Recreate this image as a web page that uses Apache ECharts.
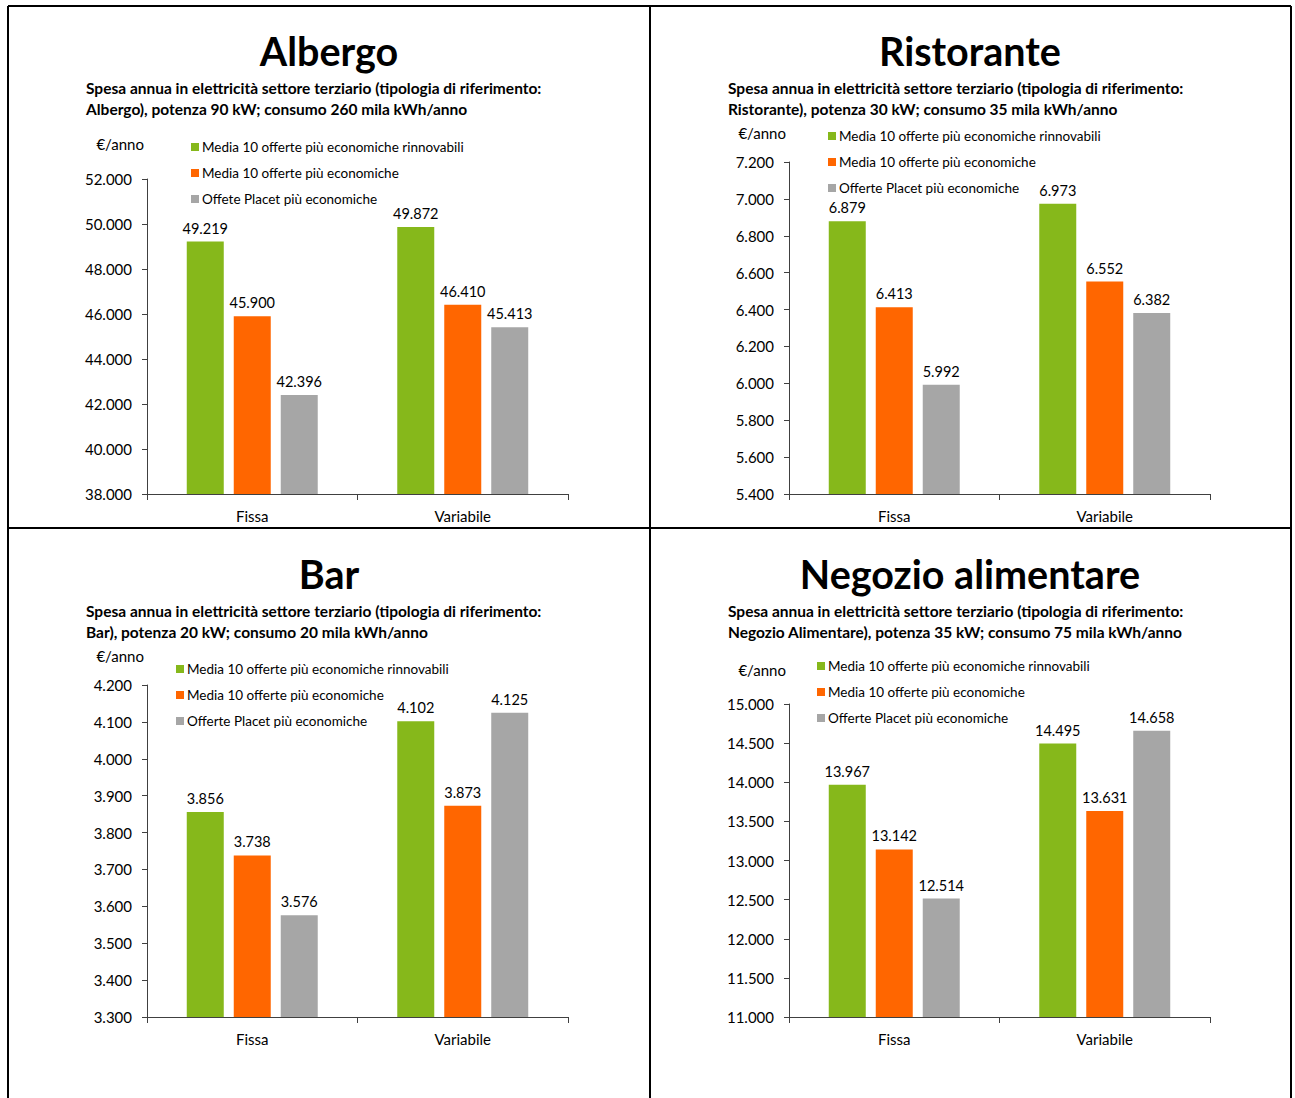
<!DOCTYPE html>
<html>
<head>
<meta charset="utf-8">
<script src="https://cdn.jsdelivr.net/npm/echarts@6/dist/echarts.min.js"></script>
<style>
  html, body { margin: 0; padding: 0; background: #ffffff; }
  #chart { width: 1295px; height: 1098px; }
</style>
</head>
<body>
<div id="chart"></div>
<script>
// Categories and series names
const categories = ['Fissa', 'Variabile'];
const nameRinnovabili = 'Media 10 offerte più economiche rinnovabili';
const nameEconomiche = 'Media 10 offerte più economiche';
const namePlacet = 'Offerte Placet più economiche';
const namePlacetAlbergo = 'Offete Placet più economiche';

// Annual spending (€/anno), one array per series and panel: [Fissa, Variabile]
const albergoRinnovabili = [49219, 49872];
const albergoEconomiche = [45900, 46410];
const albergoPlacet = [42396, 45413];

const ristoranteRinnovabili = [6879, 6973];
const ristoranteEconomiche = [6413, 6552];
const ristorantePlacet = [5992, 6382];

const barRinnovabili = [3856, 4102];
const barEconomiche = [3738, 3873];
const barPlacet = [3576, 4125];

const negozioRinnovabili = [13967, 14495];
const negozioEconomiche = [13142, 13631];
const negozioPlacet = [12514, 14658];

// Value-axis ticks: [min, max, interval]
const albergoTicks = [38000, 52000, 2000];
const ristoranteTicks = [5400, 7200, 200];
const barTicks = [3300, 4200, 100];
const negozioTicks = [11000, 15000, 500];

// Panel texts
const titles = ['Albergo', 'Ristorante', 'Bar', 'Negozio alimentare'];
const subtitles = [
  ['Spesa annua in elettricità settore terziario (tipologia di riferimento:', 'Albergo), potenza 90 kW; consumo 260 mila kWh/anno'],
  ['Spesa annua in elettricità settore terziario (tipologia di riferimento:', 'Ristorante), potenza 30 kW; consumo 35 mila kWh/anno'],
  ['Spesa annua in elettricità settore terziario (tipologia di riferimento:', 'Bar), potenza 20 kW; consumo 20 mila kWh/anno'],
  ['Spesa annua in elettricità settore terziario (tipologia di riferimento:', 'Negozio Alimentare), potenza 35 kW; consumo 75 mila kWh/anno']
];
const unitLabel = '€/anno';

const colors = ['#86B81B', '#FF6600', '#A6A6A6'];
const FONT = 'Lato';

// Italian thousands separator
function fmt(v) {
  return String(v).replace(/\B(?=(\d{3})+(?!\d))/g, '.');
}

const panels = [
  { values: [albergoRinnovabili, albergoEconomiche, albergoPlacet],
    names: [nameRinnovabili, nameEconomiche, namePlacetAlbergo], ticks: albergoTicks,
    titleX: 329, titleY: 50, subX: 86, subY: 88,
    grid: { left: 147, top: 179, width: 421, height: 315 }, legend: { left: 191, top: 140 }, nameGap: 28 },
  { values: [ristoranteRinnovabili, ristoranteEconomiche, ristorantePlacet],
    names: [nameRinnovabili, nameEconomiche, namePlacet], ticks: ristoranteTicks,
    titleX: 970, titleY: 50, subX: 728, subY: 88,
    grid: { left: 789, top: 162, width: 421, height: 332 }, legend: { left: 828, top: 129 }, nameGap: 22 },
  { values: [barRinnovabili, barEconomiche, barPlacet],
    names: [nameRinnovabili, nameEconomiche, namePlacet], ticks: barTicks,
    titleX: 329, titleY: 573, subX: 86, subY: 611,
    grid: { left: 147, top: 685, width: 421, height: 332 }, legend: { left: 176, top: 662 }, nameGap: 22 },
  { values: [negozioRinnovabili, negozioEconomiche, negozioPlacet],
    names: [nameRinnovabili, nameEconomiche, namePlacet], ticks: negozioTicks,
    titleX: 970, titleY: 573, subX: 728, subY: 611,
    grid: { left: 789, top: 704, width: 421, height: 313 }, legend: { left: 817, top: 659 }, nameGap: 27 }
];

const axisColor = '#404040';
const grid = [], xAxis = [], yAxis = [], series = [], legend = [], graphic = [];

panels.forEach(function (p, i) {
  grid.push(Object.assign({ containLabel: false }, p.grid));
  xAxis.push({
    type: 'category', gridIndex: i, data: categories,
    axisLine: { lineStyle: { color: axisColor, width: 1 } },
    axisTick: { show: true, length: 6, lineStyle: { color: axisColor } },
    axisLabel: { color: '#000', fontSize: 15, fontFamily: FONT, margin: 14 }
  });
  yAxis.push({
    type: 'value', gridIndex: i,
    min: p.ticks[0], max: p.ticks[1], interval: p.ticks[2],
    name: unitLabel, nameGap: p.nameGap,
    nameTextStyle: { color: '#000', fontSize: 15, fontFamily: FONT, align: 'right', padding: [0, 3, 0, 0] },
    axisLine: { show: true, lineStyle: { color: axisColor, width: 1 } },
    axisTick: { show: true, length: 5, lineStyle: { color: axisColor } },
    splitLine: { show: false },
    axisLabel: { color: '#000', fontSize: 15, fontFamily: FONT, margin: 15, formatter: fmt }
  });
  p.values.forEach(function (vals, k) {
    series.push({
      type: 'bar', name: p.names[k], xAxisIndex: i, yAxisIndex: i,
      data: vals, barWidth: 37, barGap: '27%',
      itemStyle: { color: colors[k] },
      label: { show: true, position: 'top', distance: 6, color: '#000',
               fontSize: 14.5, fontFamily: FONT, formatter: function (d) { return fmt(d.value); } }
    });
  });
  legend.push({
    orient: 'vertical', left: p.legend.left, top: p.legend.top, padding: 0,
    data: p.names, icon: 'rect', itemWidth: 8, itemHeight: 8, itemGap: 12,
    textStyle: { color: '#000', fontSize: 13.5, fontFamily: FONT, padding: [0, 0, 0, -2] }
  });
  graphic.push({
    type: 'text', x: p.titleX, y: p.titleY,
    style: { text: titles[i], fill: '#000', font: 'bold 39.5px ' + FONT,
             textAlign: 'center', textVerticalAlign: 'middle' }
  });
  subtitles[i].forEach(function (line, j) {
    graphic.push({
      type: 'text', x: p.subX, y: p.subY + j * 21,
      style: { text: line, fill: '#000', font: 'bold 15.5px ' + FONT,
               textAlign: 'left', textVerticalAlign: 'middle' }
    });
  });
});

// Panel frame lines
const frame = [
  [8, 6, 1291, 6], [8, 528, 1291, 528],
  [8, 6, 8, 1098], [650, 6, 650, 1098], [1291, 6, 1291, 1098]
];
frame.forEach(function (f) {
  graphic.push({
    type: 'line', shape: { x1: f[0], y1: f[1], x2: f[2], y2: f[3] },
    style: { stroke: '#000', lineWidth: 2 }, z: 10
  });
});

const chart = echarts.init(document.getElementById('chart'), null, { renderer: 'svg' });
chart.setOption({
  animation: false,
  backgroundColor: '#ffffff',
  textStyle: { fontFamily: FONT },
  grid: grid, xAxis: xAxis, yAxis: yAxis, series: series, legend: legend, graphic: graphic
});
</script>
</body>
</html>
